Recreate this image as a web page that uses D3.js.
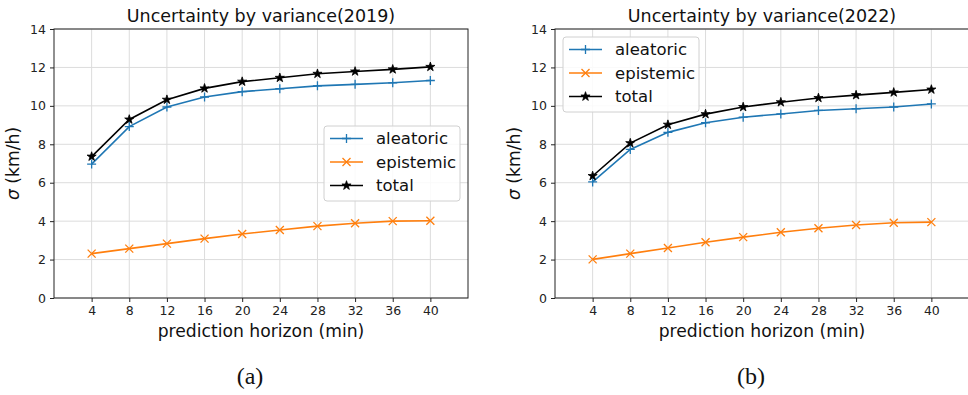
<!DOCTYPE html>
<html>
<head>
<meta charset="utf-8">
<script src="https://cdn.jsdelivr.net/npm/d3@7"></script>
<style>
  body { margin: 0; background: #fff; }
  svg { display: block; font-family: "DejaVu Sans", sans-serif; }
</style>
</head>
<body>
<svg width="968" height="395"></svg>
<script>
const horizons = [4, 8, 12, 16, 20, 24, 28, 32, 36, 40];
const yTicks = [0, 2, 4, 6, 8, 10, 12, 14];

const aleatoric2019 = [6.97, 8.92, 9.94, 10.46, 10.74, 10.89, 11.04, 11.12, 11.2, 11.32];
const epistemic2019 = [2.31, 2.57, 2.83, 3.09, 3.33, 3.54, 3.74, 3.89, 4.0, 4.02];
const total2019 = [7.36, 9.29, 10.32, 10.91, 11.26, 11.46, 11.67, 11.79, 11.9, 12.03];

const aleatoric2022 = [6.04, 7.73, 8.62, 9.12, 9.41, 9.58, 9.76, 9.85, 9.94, 10.1];
const epistemic2022 = [2.01, 2.31, 2.6, 2.9, 3.17, 3.42, 3.63, 3.8, 3.92, 3.95];
const total2022 = [6.35, 8.06, 9.02, 9.57, 9.94, 10.19, 10.41, 10.56, 10.7, 10.85];

const seriesNames = ["aleatoric", "epistemic", "total"];
const colors = { aleatoric: "#1f77b4", epistemic: "#ff7f0e", total: "#000000" };

const panels = [
  { title: "Uncertainty by variance(2019)", tag: "(a)", left: 54, legend: "right",
    data: [aleatoric2019, epistemic2019, total2019] },
  { title: "Uncertainty by variance(2022)", tag: "(b)", left: 555, legend: "left",
    data: [aleatoric2022, epistemic2022, total2022] }
];

const svg = d3.select("svg");
const plotW = 414, plotTop = 29, plotBottom = 298;

// marker shapes
function drawMarker(g, name, x, y) {
  const c = colors[name];
  if (name === "aleatoric") {
    g.append("path").attr("d", `M${x - 4.5},${y}H${x + 4.5}M${x},${y - 4.5}V${y + 4.5}`)
      .attr("stroke", c).attr("stroke-width", 1.3).attr("fill", "none");
  } else if (name === "epistemic") {
    g.append("path").attr("d", `M${x - 4},${y - 4}L${x + 4},${y + 4}M${x - 4},${y + 4}L${x + 4},${y - 4}`)
      .attr("stroke", c).attr("stroke-width", 1.3).attr("fill", "none");
  } else {
    g.append("path").attr("d", d3.symbol(d3.symbolStar, 26)())
      .attr("transform", `translate(${x},${y})`)
      .attr("fill", c).attr("stroke", c).attr("stroke-width", 0.8);
  }
}

panels.forEach(p => {
  const x = d3.scaleLinear().domain([0, 44]).range([p.left, p.left + plotW]);
  const y = d3.scaleLinear().domain([0, 14]).range([plotBottom, plotTop]);
  const g = svg.append("g");

  // grid
  g.append("g").selectAll("line").data(horizons).join("line")
    .attr("x1", d => x(d)).attr("x2", d => x(d)).attr("y1", plotTop).attr("y2", plotBottom)
    .attr("stroke", "#dcdcdc").attr("stroke-width", 1);
  g.append("g").selectAll("line").data(yTicks).join("line")
    .attr("x1", p.left).attr("x2", p.left + plotW).attr("y1", d => y(d)).attr("y2", d => y(d))
    .attr("stroke", "#dcdcdc").attr("stroke-width", 1);

  // axes
  const xAxis = g.append("g").attr("transform", `translate(0,${plotBottom})`)
    .call(d3.axisBottom(x).tickValues(horizons).tickSize(4).tickPadding(4));
  const yAxis = g.append("g").attr("transform", `translate(${p.left},0)`)
    .call(d3.axisLeft(y).tickValues(yTicks).tickSize(4).tickPadding(4));
  [xAxis, yAxis].forEach(a => {
    a.select(".domain").remove();
    a.selectAll("text").attr("font-size", 12.5).attr("fill", "#222").attr("font-family", "DejaVu Sans");
    a.selectAll("line").attr("stroke", "#222");
  });

  // frame
  g.append("rect").attr("x", p.left).attr("y", plotTop).attr("width", plotW).attr("height", plotBottom - plotTop)
    .attr("fill", "none").attr("stroke", "#222").attr("stroke-width", 1);

  // lines + markers
  const line = d3.line().x((d, i) => x(horizons[i])).y(d => y(d));
  seriesNames.forEach((name, k) => {
    const vals = p.data[k];
    g.append("path").datum(vals).attr("d", line)
      .attr("fill", "none").attr("stroke", colors[name]).attr("stroke-width", 1.6);
    vals.forEach((v, i) => drawMarker(g, name, x(horizons[i]), y(v)));
  });

  // title and labels
  g.append("text").attr("x", p.left + plotW / 2).attr("y", 22).attr("text-anchor", "middle")
    .attr("font-size", 17.5).attr("fill", "#111").text(p.title);
  g.append("text").attr("x", p.left + plotW / 2).attr("y", 337).attr("text-anchor", "middle")
    .attr("font-size", 17.2).attr("fill", "#111").text("prediction horizon (min)");
  const yl = g.append("text").attr("transform", `translate(${p.left - 35},${(plotTop + plotBottom) / 2}) rotate(-90)`)
    .attr("text-anchor", "middle").attr("font-size", 17.2).attr("fill", "#111");
  yl.append("tspan").attr("font-style", "italic").text("σ");
  yl.append("tspan").text(" (km/h)");

  g.append("text").attr("x", p.left + plotW / 2 - 11).attr("y", 384).attr("text-anchor", "middle")
    .attr("font-family", "Liberation Serif, serif").attr("font-size", 24).attr("fill", "#111").text(p.tag);

  // legend
  const lx = p.legend === "right" ? p.left + 270 : p.left + 8;
  const ly = p.legend === "right" ? 126 : 37;
  const lg = g.append("g").attr("transform", `translate(${lx},${ly})`);
  lg.append("rect").attr("width", 136).attr("height", 75).attr("rx", 3)
    .attr("fill", "#fff").attr("fill-opacity", 0.85).attr("stroke", "#d0d0d0");
  seriesNames.forEach((name, k) => {
    const ry = 12.5 + k * 23.5;
    lg.append("line").attr("x1", 6).attr("x2", 39).attr("y1", ry).attr("y2", ry)
      .attr("stroke", colors[name]).attr("stroke-width", 1.6);
    drawMarker(lg, name, 22.5, ry);
    lg.append("text").attr("x", 52).attr("y", ry + 5.5).attr("font-size", 16.5)
      .attr("fill", "#111").text(name);
  });
});
</script>
</body>
</html>
